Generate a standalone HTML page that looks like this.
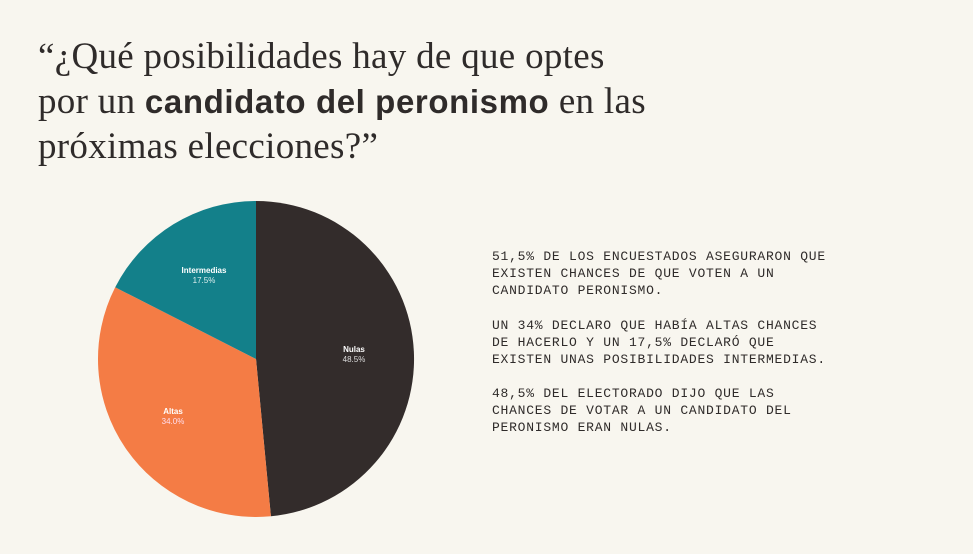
<!DOCTYPE html>
<html><head><meta charset="utf-8"><style>
body{margin:0;width:973px;height:554px;background:#f8f6ef;overflow:hidden;position:relative;font-family:"Liberation Sans",sans-serif;}
.t{position:absolute;left:38px;top:34px;font-family:"Liberation Serif",serif;font-size:37px;line-height:45px;color:#2f2b2a;letter-spacing:0.3px;white-space:nowrap}
.t b{font-family:"Liberation Sans",sans-serif;font-weight:bold;font-size:33px;letter-spacing:0.6px}
.p{position:absolute;left:492px;font-family:"Liberation Mono",monospace;font-size:13px;line-height:16.8px;letter-spacing:0.76px;color:#2f2b2a;white-space:nowrap}
</style></head><body>
<div class="t">“¿Qué posibilidades hay de que optes<br>por un <b>candidato del peronismo</b> en las<br>próximas elecciones?”</div>
<svg width="973" height="554" style="position:absolute;left:0;top:0">
<path d="M256,359 L256,201 A158,158 0 0 1 270.9,516.3 Z" fill="#332c2b"/>
<path d="M256,359 L270.9,516.3 A158,158 0 0 1 115.2,287.3 Z" fill="#f47c45"/>
<path d="M256,359 L115.2,287.3 A158,158 0 0 1 256,201 Z" fill="#13808a"/>
<g font-family="Liberation Sans,sans-serif" font-size="8" fill="#fff" text-anchor="middle">
<text x="204" y="273" font-weight="bold">Intermedias</text><text x="204" y="283" fill="#ddeeee">17.5%</text>
<text x="354" y="352" font-weight="bold">Nulas</text><text x="354" y="362" fill="#ddd">48.5%</text>
<text x="173" y="414" font-weight="bold">Altas</text><text x="173" y="424" fill="#fde">34.0%</text>
</g></svg>
<div class="p" style="top:249px">51,5% DE LOS ENCUESTADOS ASEGURARON QUE<br>EXISTEN CHANCES DE QUE VOTEN A UN<br>CANDIDATO PERONISMO.</div>
<div class="p" style="top:318px">UN 34% DECLARO QUE HABÍA ALTAS CHANCES<br>DE HACERLO Y UN 17,5% DECLARÓ QUE<br>EXISTEN UNAS POSIBILIDADES INTERMEDIAS.</div>
<div class="p" style="top:386px">48,5% DEL ELECTORADO DIJO QUE LAS<br>CHANCES DE VOTAR A UN CANDIDATO DEL<br>PERONISMO ERAN NULAS.</div>
</body></html>
